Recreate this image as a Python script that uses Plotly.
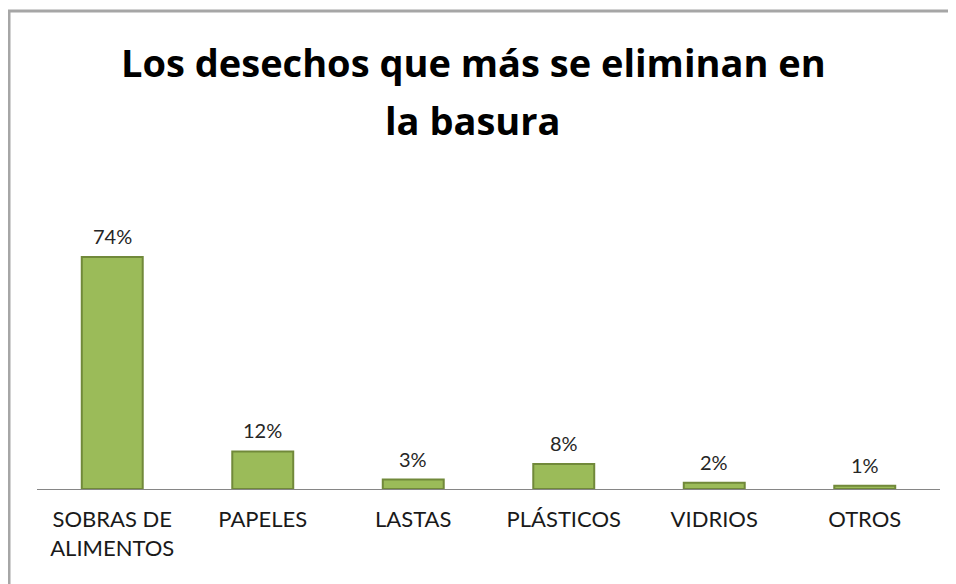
import plotly.graph_objects as go

categories = ["SOBRAS DE<br>ALIMENTOS", "PAPELES", "LASTAS", "PLÁSTICOS", "VIDRIOS", "OTROS"]
values = [74, 12, 3, 8, 2, 1]
labels = ["74%", "12%", "3%", "8%", "2%", "1%"]
title_lines = ["Los desechos que más se eliminan en", "la basura"]

# page is rendered with an 8px body margin -> figure coordinates are offset
OFF = 8
W, H = 956, 584
ml, mr, mb, mt = 37 - OFF, 956 - 940 + OFF, 584 - 489 + OFF, 180 - OFF
pw = W - ml - mr
ph = H - mb - mt
PX_PER_UNIT = 3.135

FONT = "Lato, Carlito, Calibri, sans-serif"

fig = go.Figure()
fig.add_trace(go.Bar(
    x=categories, y=values,
    marker=dict(color="#9BBB59", line=dict(color="#71893A", width=2)),
    width=0.405,
    hoverinfo="skip",
))
for c, v, t in zip(categories, values, labels):
    fig.add_annotation(x=c, y=v, text=t, showarrow=False, yanchor="bottom", yshift=7,
                       font=dict(family=FONT, size=20, color="#262626"))

def py(page_y):
    return (H - mb - (page_y - OFF)) / ph

def px(page_x):
    return (page_x - OFF - ml) / pw

for i, (line, yc) in enumerate(zip(title_lines, [62, 120])):
    fig.add_annotation(xref="paper", yref="paper", x=px(473), y=py(yc),
                       xanchor="center", yanchor="middle", showarrow=False,
                       text="<b>" + line + "</b>",
                       font=dict(family="Open Sans, sans-serif", size=38, color="black"))

# outer border
fig.add_shape(type="rect", xref="paper", yref="paper",
              x0=px(9), x1=px(W + 30),
              y0=py(H + 40), y1=py(11),
              line=dict(color="#A6A6A6", width=3), fillcolor="rgba(0,0,0,0)", layer="below")

fig.update_layout(
    width=W, height=H,
    margin=dict(l=ml, r=mr, t=mt, b=mb),
    paper_bgcolor="white", plot_bgcolor="white",
    showlegend=False,
    bargap=0.6,
    xaxis=dict(showline=True, linecolor="#868686", linewidth=1, ticks="", showgrid=False,
               ticklabelstandoff=11,
               tickfont=dict(family=FONT, size=22, color="#1a1a1a")),
    yaxis=dict(visible=False, range=[0, ph / PX_PER_UNIT], showgrid=False),
)

fig.write_html("out.html")
